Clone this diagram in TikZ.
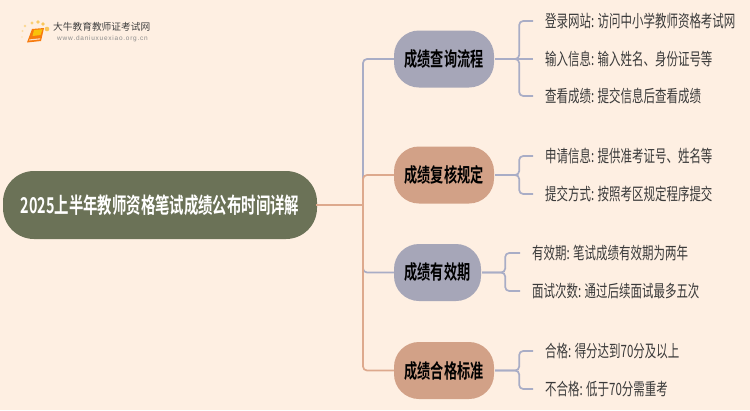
\documentclass[tikz,border=0pt]{standalone}
\usepackage{fontspec}
\newfontfamily\leaffont[FakeStretch=0.675]{Noto Sans CJK SC}
\newfontfamily\topicfont[FakeStretch=0.665]{Noto Sans CJK SC Bold}
\newfontfamily\rootfont[FakeStretch=0.66]{Noto Sans CJK SC Bold}
\newfontfamily\cjkplain{Noto Sans CJK SC}
\newfontfamily\latinsans{Liberation Sans}
\definecolor{bgc}{HTML}{FEEFE2}
\definecolor{rootc}{HTML}{6B7257}
\definecolor{bluec}{HTML}{A6A6B8}
\definecolor{salc}{HTML}{D2A187}
\definecolor{lblue}{HTML}{A9ADC6}
\definecolor{lsal}{HTML}{DDA98D}
\definecolor{txtc}{HTML}{3A3A3A}
\definecolor{bookc}{HTML}{F59A12}
\definecolor{dotc}{HTML}{F9C75A}
\tikzset{
  x=1pt,y=-1pt,
  rootbox/.style={rounded corners=31pt,fill=rootc,minimum width=314pt,minimum height=68pt,inner sep=0pt,text=white,font=\rootfont\fontsize{21.8}{24}\selectfont},
  topicblue/.style={rounded corners=25pt,fill=bluec,minimum height=57pt,inner sep=0pt,text=black,font=\topicfont\fontsize{19.8}{22}\selectfont},
  topicsal/.style={topicblue,fill=salc},
  leaftext/.style={anchor=west,inner sep=0pt,text=txtc,font=\leaffont\fontsize{17}{19}\selectfont},
  link/.style={line width=1.7pt,rounded corners=4pt},
  bluelink/.style={link,draw=lblue},
  sallink/.style={link,draw=lsal},
}
\begin{document}
\begin{tikzpicture}
\useasboundingbox (0,0) rectangle (750,410);
\fill[bgc] (0,0) rectangle (750,410);
% logo
\foreach \cx/\cy/\r/\o in {22/37/.9/.35,22.5/31/1.1/.45,25/26/1.4/.6,32/23/1.7/.8,38/22/1.8/.9,43/24/1.9/1,47/29/2.3/1}{\fill[dotc,opacity=\o] (\cx,\cy) circle (\r);}
\fill[bookc!80!red] (32,29) -- (44,28) -- (41,41) -- (27,42.5) -- cycle;
\fill[bookc!60!yellow] (34,30) -- (42.5,29.2) -- (40.5,35) -- (32.5,36) -- cycle;
\fill[white,opacity=.75] (29,40.5) -- (40,39.4) -- (40.3,38.3) -- (29.5,39.4) -- cycle;
\node[anchor=west,inner sep=0pt,text=black!75,font=\cjkplain\fontsize{9.7}{11}\selectfont] (logoa) at (53,27) {大牛教育教师证考试网};
\node[anchor=west,inner sep=0pt,text=black!45,font=\latinsans\fontsize{6.5}{8}\selectfont] (logob) at (57,39) {w\hspace{.75pt}w\hspace{.75pt}w\hspace{.75pt}.\hspace{.75pt}d\hspace{.75pt}a\hspace{.75pt}n\hspace{.75pt}i\hspace{.75pt}u\hspace{.75pt}x\hspace{.75pt}u\hspace{.75pt}e\hspace{.75pt}x\hspace{.75pt}i\hspace{.75pt}a\hspace{.75pt}o\hspace{.75pt}.\hspace{.75pt}o\hspace{.75pt}r\hspace{.75pt}g\hspace{.75pt}.\hspace{.75pt}c\hspace{.75pt}n};
% nodes
\node[rootbox] (root) at (160,205) {2025上半年教师资格笔试成绩公布时间详解};
\node[topicblue,minimum width=100pt] (t1) at (444,59) {成绩查询流程};
\node[topicsal,minimum width=100pt] (t2) at (444,175) {成绩复核规定};
\node[topicblue,minimum width=87pt] (t3) at (437.5,272.5) {成绩有效期};
\node[topicsal,minimum width=100pt] (t4) at (444,370.5) {成绩合格标准};
% leaves
\node[leaftext] (a1) at (545,21) {登录网站: 访问中小学教师资格考试网};
\node[leaftext] (a2) at (545,59) {输入信息: 输入姓名、身份证号等};
\node[leaftext] (a3) at (545,96) {查看成绩: 提交信息后查看成绩};
\node[leaftext] (b1) at (545,156) {申请信息: 提供准考证号、姓名等};
\node[leaftext] (b2) at (545,194) {提交方式: 按照考区规定程序提交};
\node[leaftext] (c1) at (532,253) {有效期: 笔试成绩有效期为两年};
\node[leaftext] (c2) at (532,291) {面试次数: 通过后续面试最多五次};
\node[leaftext] (d1) at (545,351) {合格: 得分达到70分及以上};
\node[leaftext] (d2) at (545,389) {不合格: 低于70分需重考};
% trunk links
\coordinate (trunk) at (363,205);
\draw[bluelink] (trunk) |- (t1.west);
\draw[bluelink] (trunk) |- (t3.west);
\draw[sallink] (trunk) |- (t2.west);
\draw[sallink] (trunk) |- (t4.west);
\draw[sallink,line cap=rect] (root.east) -- (trunk);
% leaf links
\foreach \t/\l in {t1/a1,t1/a3,t2/b1,t2/b2,t4/d1,t4/d2}{
  \draw[bluelink] ([xshift=1pt]\t.east) -- ([xshift=25pt]\t.east) |- ([xshift=-12pt]\l.west);
}
\draw[bluelink] ([xshift=1pt]t1.east) -- ([xshift=-12pt]a2.west);
\foreach \l in {c1,c2}{
  \draw[bluelink] ([xshift=1pt]t3.east) -- ([xshift=24pt]t3.east) |- ([xshift=-12pt]\l.west);
}
\end{tikzpicture}
\end{document}
